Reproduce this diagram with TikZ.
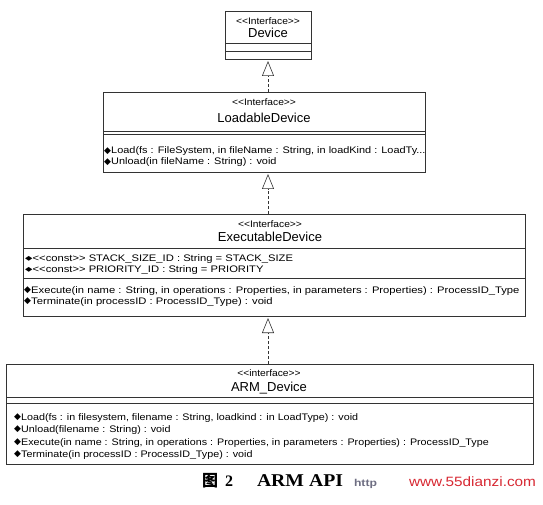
\documentclass[tikz,border=0pt]{standalone}
\usepackage{fontspec}
\setmainfont{Liberation Sans}
\newfontfamily\dejavu{DejaVu Sans}
\newfontfamily\cjk{Noto Sans CJK SC}
\newfontfamily\timesf{Liberation Serif}
\usetikzlibrary{arrows.meta}
\newcommand\fitw[2]{\resizebox{#1}{\height}{#2}}
\newcommand\sxL[1]{\scalebox{1.15}[1]{#1}}
\newcommand\sxA[1]{\scalebox{1.13}[1]{#1}}
\newcommand\sxB[1]{\scalebox{1.18}[1]{#1}}
\newcommand\sxS[1]{\scalebox{1.08}[1]{#1}}
\newcommand\umlL{<\kern0pt<}
\newcommand\umlR{>\kern0pt>}
\newcommand\opicon{{\dejavu\fontsize{9}{9}\selectfont\raisebox{0.6pt}{◆}}\kern0.3pt}
\newcommand\aticon{{\dejavu\fontsize{8}{8}\selectfont\raisebox{0.8pt}{\scalebox{1.2}[0.8]{◆}}}\kern0.3pt}
\begin{document}
\begin{tikzpicture}[x=1pt,y=-1pt,
  every node/.style={inner sep=0pt,outer sep=0pt},
  umlbox/.style={draw=black!80,line width=0.6pt,anchor=north west},
  divider/.style={draw=black!80,line width=0.7pt},
  stereo/.style={font=\fontsize{9.5}{11}\selectfont,anchor=base},
  cname/.style={font=\fontsize{13}{15}\selectfont,anchor=base},
  member/.style={font=\fontsize{9.5}{10}\selectfont,anchor=base west},
  realize/.style={draw=black!80,line width=0.6pt,dash pattern=on 3pt off 2pt,
    -{Triangle[open,length=15pt,width=12pt]},shorten >=2pt},
  caption/.style={anchor=base west}]
\useasboundingbox (0,0) rectangle (543,505);

% ---- Device
\node[umlbox,minimum width=86pt,minimum height=48pt] (dev) at (225,11) {};
\draw[divider] (dev.west |- 0,43) -- (dev.east |- 0,43);
\draw[divider] (dev.west |- 0,51) -- (dev.east |- 0,51);
\node[stereo] (devS) at (268,25) {\sxS{\umlL Interface\umlR}};
\node[cname] (devN) at (268,38) {Device};

% ---- LoadableDevice
\node[umlbox,minimum width=322pt,minimum height=80pt] (load) at (103,92) {};
\draw[divider] (load.west |- 0,131) -- (load.east |- 0,131);
\draw[divider] (load.west |- 0,134) -- (load.east |- 0,134);
\node[stereo] (loadS) at (264,106) {\sxS{\umlL Interface\umlR}};
\node[cname] (loadN) at (264,123) {LoadableDevice};
\node[member] (loadM1) at (104,154) {\opicon\sxL{Load(fs : FileSystem, in fileName : String, in loadKind : LoadTy...}};
\node[member] (loadM2) at (104,165) {\opicon\sxL{Unload(in fileName : String) : void}};

% ---- ExecutableDevice
\node[umlbox,minimum width=502pt,minimum height=102pt] (exec) at (23,214) {};
\draw[divider] (exec.west |- 0,248) -- (exec.east |- 0,248);
\draw[divider] (exec.west |- 0,278) -- (exec.east |- 0,278);
\node[stereo] (execS) at (270,227) {\sxS{\umlL Interface\umlR}};
\node[cname] (execN) at (270,241) {ExecutableDevice};
\node[member] (execA1) at (25,261) {\aticon\sxB{\umlL const\umlR{} STACK\_SIZE\_ID : String = STACK\_SIZE}};
\node[member] (execA2) at (25,272) {\aticon\sxB{\umlL const\umlR{} PRIORITY\_ID : String = PRIORITY}};
\node[member] (execM1) at (24,293) {\opicon\sxB{Execute(in name : String, in operations : Properties, in parameters : Properties) : ProcessID\_Type}};
\node[member] (execM2) at (24,304) {\opicon\sxB{Terminate(in processID : ProcessID\_Type) : void}};

% ---- ARM_Device
\node[umlbox,minimum width=527pt,minimum height=100pt] (arm) at (6,364) {};
\draw[divider] (arm.west |- 0,397) -- (arm.east |- 0,397);
\draw[divider] (arm.west |- 0,403) -- (arm.east |- 0,403);
\node[stereo] (armS) at (269,376) {\sxS{\umlL interface\umlR}};
\node[cname] (armN) at (269,391) {ARM\_Device};
\node[member] (armM1) at (14,420) {\opicon\sxA{Load(fs : in filesystem, filename : String, loadkind : in LoadType) : void}};
\node[member] (armM2) at (14,432) {\opicon\sxA{Unload(filename : String) : void}};
\node[member] (armM3) at (14,445) {\opicon\sxA{Execute(in name : String, in operations : Properties, in parameters : Properties) : ProcessID\_Type}};
\node[member] (armM4) at (14,457) {\opicon\sxA{Terminate(in processID : ProcessID\_Type) : void}};

% ---- connectors
\draw[realize] (load.north -| dev.south) -- (dev.south);
\draw[realize] (exec.north -| dev.south) -- (load.south -| dev.south);
\draw[realize] (arm.north -| dev.south) -- (exec.south -| dev.south);

% ---- caption
\node[caption,font=\cjk\bfseries\fontsize{16}{18}\selectfont] (capA) at (202,486) {图};
\node[caption,font=\timesf\bfseries\fontsize{16}{18}\selectfont] (capB) at (225,486) {2};
\node[caption,font=\timesf\bfseries\fontsize{18}{20}\selectfont] (capC) at (257,486) {\fitw{86pt}{ARM API}};
\node[caption,font=\bfseries\fontsize{10}{12}\selectfont,text={rgb,255:red,110;green,110;blue,130}] (capD) at (354,486) {\fitw{23pt}{http}};
\node[caption,font=\fontsize{13.5}{15}\selectfont,text={rgb,255:red,215;green,40;blue,50}] (capE) at (409,486) {\fitw{127pt}{www.55dianzi.com}};
\end{tikzpicture}
\end{document}
